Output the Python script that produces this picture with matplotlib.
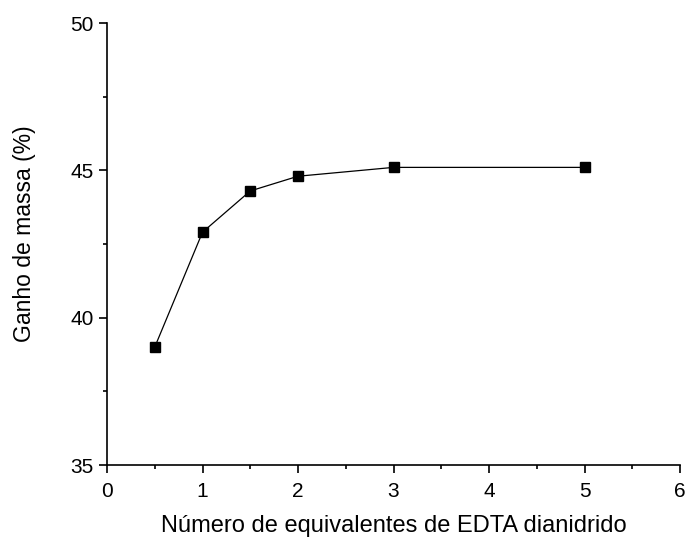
import matplotlib
matplotlib.use("Agg")
import matplotlib.pyplot as plt
from matplotlib.ticker import MultipleLocator

plt.rcParams['font.family'] = ['Liberation Sans', 'DejaVu Sans']

equivalentes = [0.5, 1.0, 1.5, 2.0, 3.0, 5.0]
ganho_massa = [39.0, 42.9, 44.3, 44.8, 45.1, 45.1]

fig = plt.figure(figsize=(6.86, 5.39), dpi=100)
ax = fig.add_axes([107/686, 1 - 465/539, (680-107)/686, (465-23)/539])

ax.plot(equivalentes, ganho_massa, color='black', linewidth=0.9,
        marker='s', markersize=7, markerfacecolor='black', markeredgecolor='black')

ax.set_xlim(0, 6)
ax.set_ylim(35, 50)
ax.xaxis.set_major_locator(MultipleLocator(1))
ax.xaxis.set_minor_locator(MultipleLocator(0.5))
ax.yaxis.set_major_locator(MultipleLocator(5))
ax.yaxis.set_minor_locator(MultipleLocator(2.5))

ax.spines['top'].set_visible(False)
ax.spines['right'].set_visible(False)
for s in ('left', 'bottom'):
    ax.spines[s].set_linewidth(1.2)

ax.tick_params(which='major', direction='out', length=5.5, width=1.2, labelsize=15)
ax.tick_params(axis='y', which='major', pad=4)
ax.tick_params(axis='x', which='major', pad=7)
ax.tick_params(which='minor', direction='out', length=3, width=1.2)

ax.set_xlabel('Número de equivalentes de EDTA dianidrido', fontsize=17)
ax.set_ylabel('Ganho de massa (%)', fontsize=16.5)
ax.xaxis.set_label_coords(0.5, -0.112)
ax.yaxis.set_label_coords(-0.124, 0.523)

fig.savefig('out.png', dpi=100)
